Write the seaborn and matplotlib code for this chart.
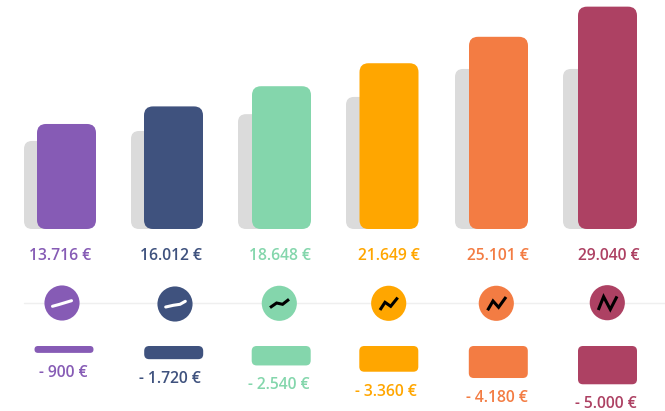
import matplotlib
matplotlib.use("Agg")
import matplotlib.pyplot as plt
import pandas as pd
import seaborn as sns
from matplotlib.patches import FancyBboxPatch, Rectangle

# Values
columns = ["a", "b", "c", "d", "e", "f"]
income = [13716, 16012, 18648, 21649, 25101, 29040]
income_back = [11500, 12800, 15000, 17250, 20900, 20900]
loss = [900, 1720, 2540, 3360, 4180, 5000]
income_labels = ["13.716 €", "16.012 €", "18.648 €", "21.649 €", "25.101 €", "29.040 €"]
loss_labels = ["- 900 €", "- 1.720 €", "- 2.540 €", "- 3.360 €", "- 4.180 €", "- 5.000 €"]
colors = ["#865BB5", "#3F527E", "#84D6AC", "#FFA600", "#F37C43", "#AD4163"]
icon_colors = ["white", "white", "black", "black", "black", "black"]
# little trend lines inside the circles, in pixels from the circle centre
icon_x = [[-9.5, -3, 9.5], [-9.3, -1.7, 5, 10.3], [-9.3, -2.7, 3.3, 9.7],
          [-8.7, -3.7, 2, 9], [-8.7, -3.3, 2.3, 9.7], [-9, -3.7, 3, 9.7]]
icon_y = [[3.3, 1.5, -2.3], [3, 1.3, 0.3, -2.7], [4.3, -0.3, 1, -4],
          [6.7, -1, 3, -5.7], [7, -2.3, 4, -6.3], [7.3, -6, 6.7, -6.3]]

# Layout, in pixels of the 665x411 picture
W, H = 665, 411
STEP = 108.2
FIRST = 66.5
PER_PX = 130.6
front_nudge = [0, -1.2, -1.4, -2.1, -0.8, 0]
back_nudge = [-13, -14.2, -15.4, -15.6, -14.8, -15]
loss_nudge = [-2.5, -1, -1.7, -2.3, -1, 0]
circle_nudge = [-4.5, 0.3, -3.6, -2.4, -3, -0.2]
circle_dy = [0, 1, 0.3, 0.3, 0.3, -0.3]
top_text_nudge = [-6, -4.2, -2.9, -1.8, -1, 1.2]
low_text_nudge = [-2.8, -4.4, -3.6, -5.4, -2.8, -1.2]

sns.set_theme(style="white")
plt.rcParams["font.family"] = ["Open Sans", "DejaVu Sans"]

fig = plt.figure(figsize=(W / 100, H / 100), dpi=100, facecolor="white")
ax_top = fig.add_axes([0, (H - 229) / H, 1, 229 / H])
ax_mid = fig.add_axes([0, (H - 326) / H, 1, 46 / H])
ax_low = fig.add_axes([0, 0, 1, (H - 346) / H])
xlim = (-FIRST / STEP, (W - FIRST) / STEP)


def round_bars(ax, nudges, radius, y_per_px):
    # seaborn bars are square, swap them for rounded ones of the same size
    bars = [p for p in ax.patches if type(p) is Rectangle]
    for bar, nudge in zip(bars, nudges):
        r = min(radius, bar.get_height() / y_per_px / 2)
        ax.add_patch(FancyBboxPatch(
            (bar.get_x() + nudge / STEP, bar.get_y()), bar.get_width(), bar.get_height(),
            boxstyle=f"round,pad=0,rounding_size={r / STEP}",
            mutation_aspect=y_per_px * STEP,
            facecolor=bar.get_facecolor(), edgecolor="none", zorder=bar.get_zorder()))
        bar.remove()


bar_w = 59 / STEP

sns.barplot(x=columns, y=income_back, color="#DBDBDB", saturation=1, width=bar_w, ax=ax_top)
ax_top.set_xlim(xlim)
ax_top.set_ylim(0, 229 * PER_PX)
round_bars(ax_top, back_nudge, 8, PER_PX)

sns.barplot(x=columns, y=income, hue=columns, palette=colors, saturation=1, width=bar_w,
            legend=False, ax=ax_top)
ax_top.set_xlim(xlim)
ax_top.set_ylim(0, 229 * PER_PX)
round_bars(ax_top, front_nudge, 9, PER_PX)

sns.barplot(x=columns, y=loss, hue=columns, palette=colors, saturation=1, width=bar_w,
            legend=False, ax=ax_low)
ax_low.set_xlim(xlim)
ax_low.set_ylim((H - 346) * PER_PX, 0)
round_bars(ax_low, loss_nudge, 5, PER_PX)

# Circles on the thin line
df_mid = pd.DataFrame({
    "x": [i + n / STEP for i, n in enumerate(circle_nudge)],
    "y": circle_dy,
    "col": columns,
})
ax_mid.axhline(0, xmin=24 / W, color="#EFEFEF", lw=1, zorder=1)
sns.scatterplot(data=df_mid, x="x", y="y", hue="col", palette=colors, s=640, linewidth=0,
                legend=False, zorder=2, clip_on=False, ax=ax_mid)
for i in range(len(columns)):
    xs = [df_mid["x"][i] + v / STEP for v in icon_x[i]]
    ys = [circle_dy[i] + v for v in icon_y[i]]
    ax_mid.plot(xs, ys, color=icon_colors[i], lw=2.2, zorder=3,
                solid_capstyle="round" if icon_colors[i] == "white" else "butt",
                solid_joinstyle="miter")
ax_mid.set_xlim(xlim)
ax_mid.set_ylim(23, -23)

# Value labels
for i in range(len(columns)):
    ax_top.annotate(income_labels[i], (i + top_text_nudge[i] / STEP, 0),
                    xytext=(0, -26.5 * 0.72), textcoords="offset points",
                    ha="center", va="center", color=colors[i],
                    fontsize=11.25, fontweight=600, annotation_clip=False)
    ax_low.annotate(loss_labels[i], (i + low_text_nudge[i] / STEP, loss[i]),
                    xytext=(0, -20 * 0.72), textcoords="offset points",
                    ha="center", va="center", color=colors[i],
                    fontsize=11.25, fontweight=600, annotation_clip=False)

for ax in (ax_top, ax_mid, ax_low):
    ax.axis("off")

fig.savefig("out.png", dpi=100, facecolor="white")
